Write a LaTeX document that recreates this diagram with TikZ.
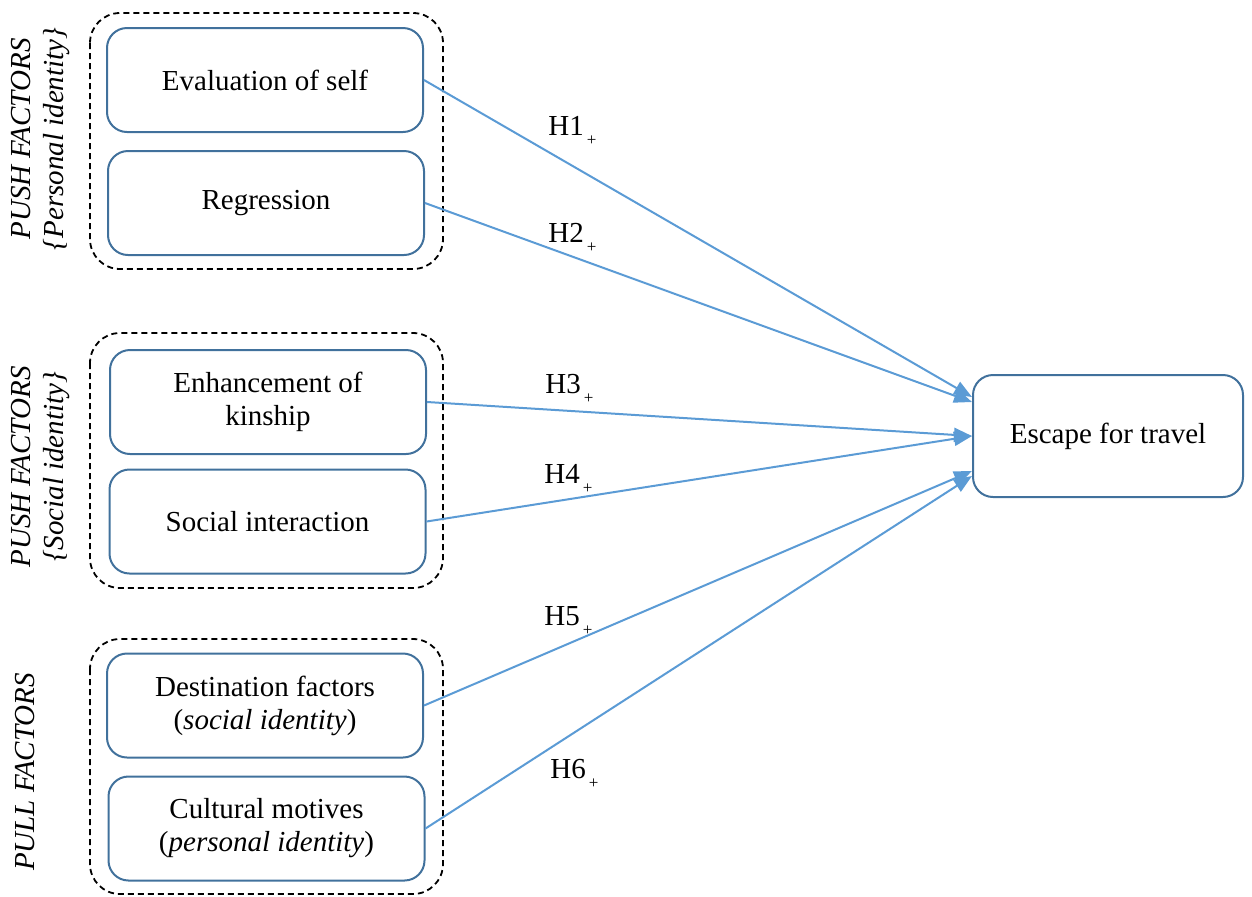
\documentclass[tikz,border=0pt]{standalone}
\usepackage{fontspec}
\setmainfont{Liberation Serif}
\usetikzlibrary{arrows.meta}
\definecolor{boxblue}{HTML}{41719C}
\definecolor{arrowblue}{HTML}{5B9BD5}
\begin{document}
\begin{tikzpicture}[x=0.5pt, y=-0.5pt, font=\fontsize{14.5}{16.5}\selectfont, line join=round,
	>={Triangle[length=9pt,width=7pt]},
	box/.style={draw=boxblue, line width=1pt, rounded corners=10pt, minimum width=158pt, minimum height=52pt, align=center, inner sep=2pt},
	group/.style={draw, dashed, dash pattern=on 3pt off 2pt, line width=0.9pt, rounded corners=15pt},
	factor/.style={font=\fontsize{14.5}{16.5}\selectfont\itshape, rotate=90, align=center, inner sep=0pt},
	link/.style={->, draw=arrowblue, line width=1pt}]
	\useasboundingbox (0,0) rectangle (1252,896);
	% dashed frames
	\draw[group] (90,13) rectangle (443,269);
	\draw[group] (90,333) rectangle (443,588);
	\draw[group] (90,639) rectangle (443,894);
	% factors
	\node[box] (eval) at (265,80) {Evaluation of self};
	\node[box] (regr) at (266,203) {Regression};
	\node[box] (kin) at (268,402) {Enhancement of\\kinship};
	\node[box] (social) at (267.5,521.5) {Social interaction};
	\node[box] (dest) at (265,705.5) {Destination factors\\(\textit{social identity})};
	\node[box] (cult) at (266.5,828.5) {Cultural motives\\(\textit{personal identity})};
	\node[box, minimum width=135pt, minimum height=61pt] (escape) at (1108,436) {Escape for travel};
	\node[factor] (push1) at (41,139) {PUSH FACTORS\\\{Personal identity\}};
	\node[factor] (push2) at (41,467) {PUSH FACTORS\\\{Social identity\}};
	\node[factor] (pull) at (25,772) {PULL FACTORS};
	% hypotheses
	\foreach \s/\d in {eval/19.5, regr/17, kin/0, social/0, dest/-17.5, cult/-20}
		\draw[link] (\s.east) -- ([yshift=\d pt]escape.west);
	\foreach \n/\x/\y in {1/548/135, 2/548/242, 3/545/393, 4/544/483, 5/544/625, 6/550/778}
		\node[anchor=base west, inner sep=0pt] (h\n) at (\x,\y) {H\n\kern1.5pt\raisebox{-5pt}{\fontsize{8.5}{8.5}\selectfont+}};
\end{tikzpicture}
\end{document}
